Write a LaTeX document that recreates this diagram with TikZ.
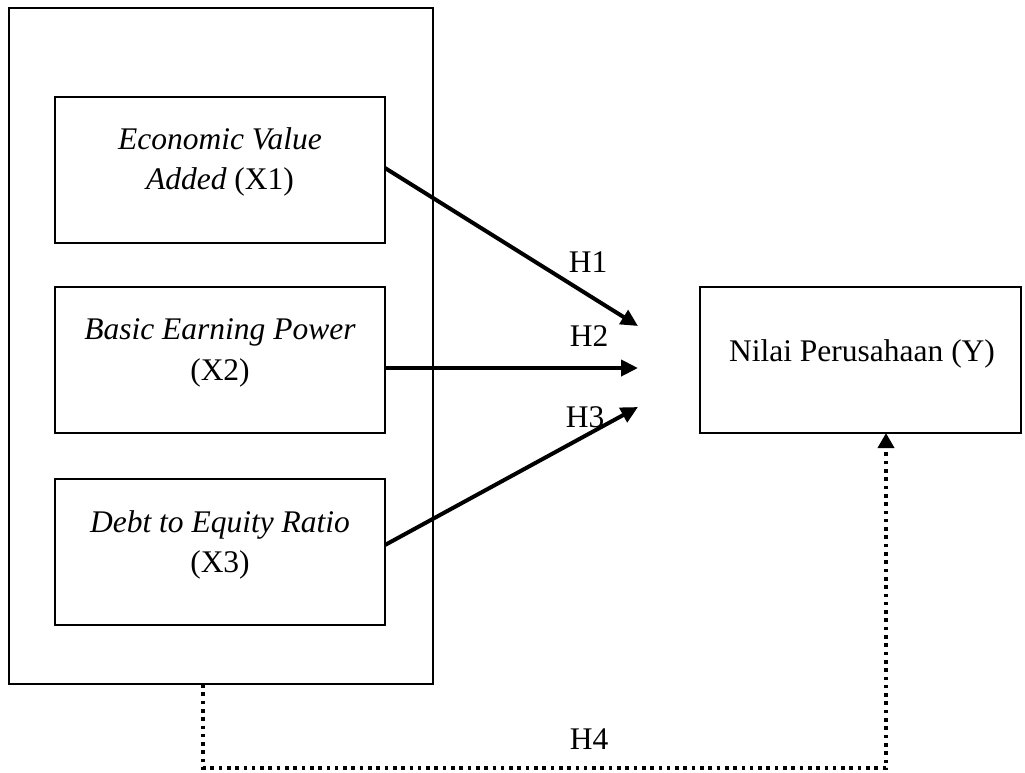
\documentclass[tikz,border=0pt]{standalone}
\usepackage{fontspec}
\setmainfont{Liberation Serif}
\usetikzlibrary{arrows.meta}
\begin{document}
\begin{tikzpicture}[x=1pt,y=-1pt,
  box/.style={draw=black,line width=2pt,inner sep=0pt,outer sep=0pt,rectangle},
  txt/.style={inner sep=0pt,outer sep=0pt,anchor=base,font=\fontsize{31.5}{40}\selectfont},
  conn/.style={line width=4pt,-{Triangle[length=17pt,width=16pt]}},
  dotconn/.style={line width=3.6pt,dash pattern=on 3.6pt off 4.7pt,-{Triangle[length=15pt,width=16pt]}}]
\useasboundingbox (0,0) rectangle (1025,772);
% outer box
\node[box,minimum width=424pt,minimum height=676pt] (outer) at (221,346) {};
% inner boxes
\node[box,minimum width=330pt,minimum height=146pt] (b1) at (220,170) {};
\node[box,minimum width=330pt,minimum height=146pt] (b2) at (220,360) {};
\node[box,minimum width=330pt,minimum height=146pt] (b3) at (220,552) {};
\node[box,minimum width=321pt,minimum height=146pt] (y) at (860.5,360) {};
% texts
\node[txt] (t1a) at (220,149) {\textit{Economic Value}};
\node[txt] (t1b) at (220,189) {\textit{Added} (X1)};
\node[txt] (t2a) at (220,339) {\textit{Basic Earning Power}};
\node[txt] (t2b) at (220,380) {(X2)};
\node[txt] (t3a) at (220,532) {\textit{Debt to Equity Ratio}};
\node[txt] (t3b) at (220,572) {(X3)};
\node[txt] (ty) at (862,361) {Nilai Perusahaan (Y)};
% connectors
\coordinate (e1) at (638,326);
\coordinate (e2) at (638,368);
\coordinate (e3) at (638,407);
\draw[conn] (b1.east |- 0,168) -- (e1);
\draw[conn] (b2.east |- 0,368) -- (e2);
\draw[conn] (b3.east |- 0,545) -- (e3);
% hypothesis labels
\node[txt] (h1) at (588,272) {H1};
\node[txt] (h2) at (589,346) {H2};
\node[txt] (h3) at (585,427) {H3};
\node[txt] (h4) at (589,749) {H4};
% dotted connector
\coordinate (d1) at (203,768);
\coordinate (d2) at (886,768);
\draw[dotconn] (outer.south -| d1) -- (d1) -- (d2) -- (y.south -| d2);
\end{tikzpicture}
\end{document}
